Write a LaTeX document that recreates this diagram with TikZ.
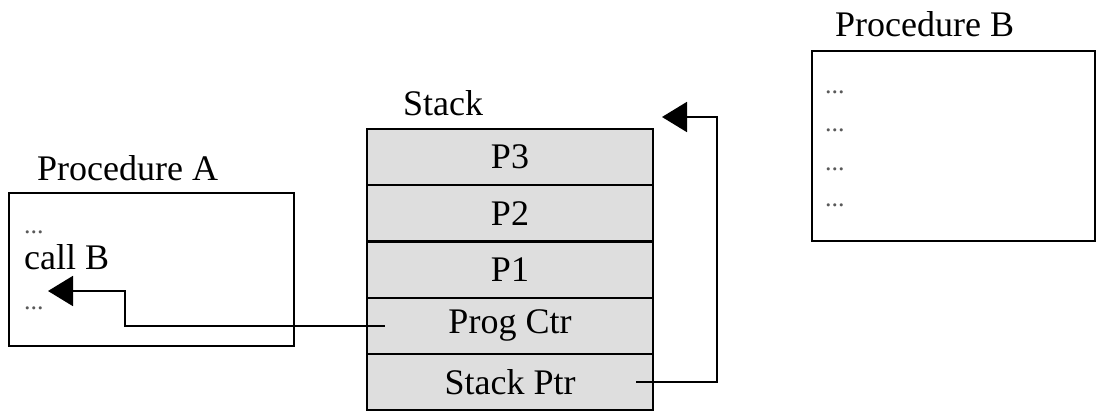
\documentclass[tikz,border=0pt]{standalone}
\usepackage{fontspec}
\setmainfont{Liberation Serif}
\usetikzlibrary{arrows.meta}
\begin{document}
\begin{tikzpicture}[x=1pt,y=-1pt,
  lbl/.style={anchor=base west,inner sep=0pt,font=\fontsize{36}{40}\selectfont},
  dots/.style={anchor=base west,inner sep=0pt,text=black!65,font=\fontsize{26}{30}\selectfont},
  pbox/.style={draw,line width=2.2pt},
  cell/.style={draw,line width=2.2pt,fill=black!13,minimum width=286pt,minimum height=56.2pt,inner sep=0pt,font=\fontsize{36}{40}\selectfont},
  arr/.style={line width=2pt,-{Triangle[length=25pt,width=30pt]}}]
\useasboundingbox (0,0) rectangle (1100,412);
% Procedure A
\node[lbl] (la) at (37,180) {Procedure A};
\node[pbox,minimum width=285pt,minimum height=153pt,inner sep=0pt] (pa) at (151.5,269.5) {};
\node[dots] (a1) at (24,233) {...};
\node[lbl] (ac) at (24,269) {call B};
\node[dots] (a2) at (24,309) {...};
% Stack
\node[lbl] (ls) at (403,115) {Stack};
\node[cell] (p3) at (510,157.1) {P3};
\node[cell] (p2) at (510,213.3) {P2};
\node[cell] (p1) at (510,269.5) {P1};
\node[cell] (pc) at (510,325.7) {Prog Ctr};
\node[cell] (sp) at (510,381.9) {Stack Ptr};
% Procedure B
\node[lbl] (lb) at (835,37) {Procedure B};
\node[pbox,minimum width=283pt,minimum height=190pt,inner sep=0pt] (pb) at (953.5,146) {};
\node[dots] (b1) at (825,93) {...};
\node[dots] (b2) at (825,131) {...};
\node[dots] (b3) at (825,170) {...};
\node[dots] (b4) at (825,206) {...};
% arrows
\coordinate (tipA) at (48,291);
\coordinate (tipB) at (662,117);
\draw[arr] ([xshift=19pt]pc.west) -| (125,291) -- (tipA);
\draw[arr] ([xshift=-18pt]sp.east) -| (717,117) -- (tipB);
\end{tikzpicture}
\end{document}
